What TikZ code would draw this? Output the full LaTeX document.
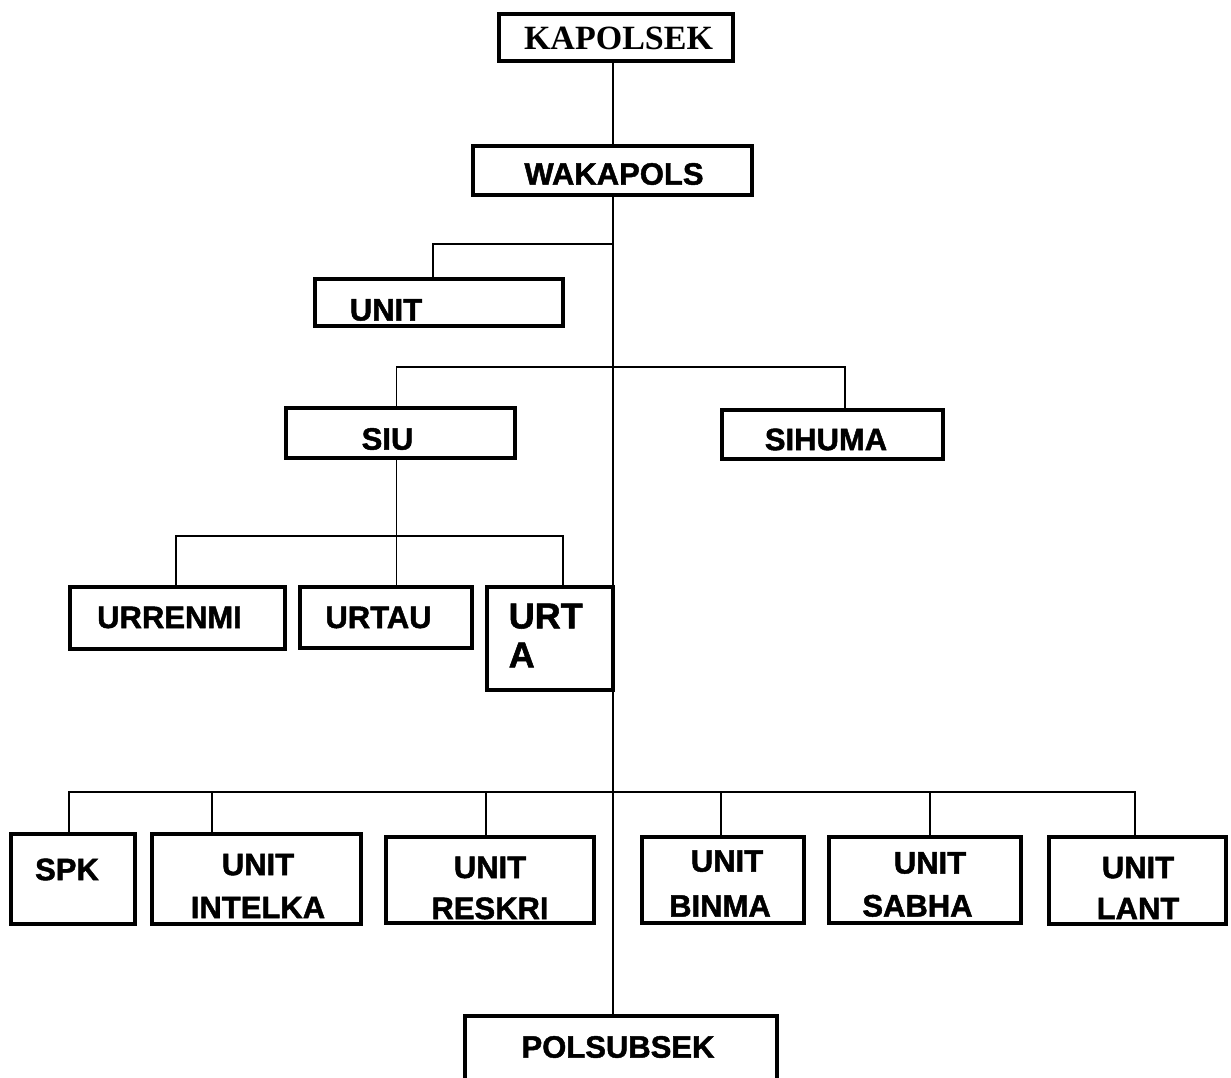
\documentclass[tikz,border=0pt]{standalone}
\usepackage{fontspec}
\setmainfont{Liberation Sans}[BoldFeatures={FakeBold=1.5}]
\newfontfamily\serifkap{Liberation Serif}
\tikzset{
  box/.style   = {draw, line width=4pt, rectangle, inner sep=0pt, outer sep=0pt},
  lbl/.style   = {inner sep=0pt, align=center, font=\bfseries\fontsize{31}{#1}\selectfont},
  lbl/.default = 43,
  conn/.style  = {line width=1.3pt},
}

\begin{document}
\begin{tikzpicture}[x=1pt,y=-1pt]
\useasboundingbox (0,0) rectangle (1231,1077);
\coordinate (spine) at (613,0);
\coordinate (bus1) at (0,244);
\coordinate (bus2) at (0,367);
\coordinate (bus3) at (0,536);
\coordinate (bus4) at (0,792);
% top
\node[box, minimum width=234, minimum height=47] (kapolsek) at (616,37.5) {};
\node[lbl, font=\serifkap\bfseries\fontsize{34}{40}\selectfont] (kapolsek-t) at (618.5,38.5) {KAPOLSEK};
\node[box, minimum width=279, minimum height=49] (wakapols) at (612.5,170.5) {};
\node[lbl] (wakapols-t) at (614,174) {WAKAPOLS};
\node[box, minimum width=248, minimum height=47] (unit) at (439,302.5) {};
\node[lbl] (unit-t) at (386,310) {UNIT};
% second row
\node[box, minimum width=229, minimum height=50] (siu) at (400.5,433) {};
\node[lbl] (siu-t) at (387.5,439) {SIU};
\node[box, minimum width=221, minimum height=49] (sihuma) at (832.5,434.5) {};
\node[lbl] (sihuma-t) at (826,439.5) {SIHUMA};
% under SIU
\node[box, minimum width=215, minimum height=62] (urrenmi) at (177.5,618) {};
\node[lbl] (urrenmi-t) at (169.5,617.5) {URRENMI};
\node[box, minimum width=172, minimum height=61] (urtau) at (386,617.5) {};
\node[lbl] (urtau-t) at (378.5,617.5) {URTAU};
\node[box, minimum width=126, minimum height=103] (urta) at (550,638.5) {};
\node[lbl, anchor=west, align=left, font=\bfseries\fontsize{36}{39}\selectfont] (urta-t) at (508.5,635.5) {URT\\A};
% bottom row
\node[box, minimum width=124, minimum height=90] (spk) at (73,879) {};
\node[lbl] (spk-t) at (67,869.5) {SPK};
\node[box, minimum width=209, minimum height=90] (intelka) at (256.5,879) {};
\node[lbl] (intelka-t) at (258,886) {UNIT\\INTELKA};
\node[box, minimum width=208, minimum height=86] (reskri) at (490,880) {};
\node[lbl=41] (reskri-t) at (490,888) {UNIT\\RESKRI};
\node[box, minimum width=162, minimum height=86] (binma) at (723,880) {};
\node[lbl=45] (binma-t) at (720,883.5) {\hspace*{14pt}UNIT\\BINMA};
\node[box, minimum width=192, minimum height=86] (sabha) at (925,880) {};
\node[lbl] (sabha-t) at (917.5,884.5) {\hspace*{25pt}UNIT\\SABHA};
\node[box, minimum width=177, minimum height=87] (lant) at (1137.5,880.5) {};
\node[lbl=41] (lant-t) at (1138,888) {UNIT\\LANT};
\node[box, minimum width=312, minimum height=72] (polsubsek) at (621,1052) {};
\node[lbl] (polsubsek-t) at (618,1047) {POLSUBSEK};
% lines
\draw[conn] (spine |- kapolsek.south) -- (spine |- wakapols.north);
\draw[conn] (spine |- wakapols.south) -- (spine |- polsubsek.north);
\draw[conn] (spine |- bus1) -| ([xshift=-6pt]unit.north);
\draw[conn] ([xshift=-4pt]siu.north) |- (spine |- bus2) -| ([xshift=12.5pt]sihuma.north);
\draw[conn] ([xshift=-4pt]siu.south) -- ([xshift=10.5pt]urtau.north);
\draw[conn] ([xshift=-1.5pt]urrenmi.north) |- ([xshift=13pt]urta.north |- bus3) -- ([xshift=13pt]urta.north);
\draw[conn] ([xshift=-4pt]spk.north) |- ([xshift=-2.5pt]lant.north |- bus4) -- ([xshift=-2.5pt]lant.north);
\foreach \n/\dx in {intelka/-44.5, reskri/-4, binma/-2, sabha/5}
  \draw[conn] ([xshift=\dx pt]\n.north) -- ([xshift=\dx pt]\n.north |- bus4);
\end{tikzpicture}
\end{document}
